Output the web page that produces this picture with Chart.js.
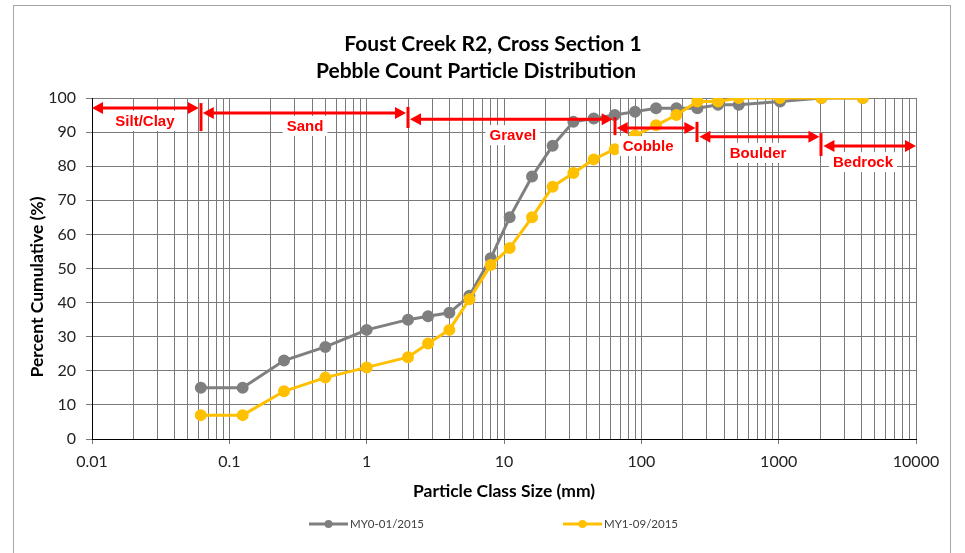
<!DOCTYPE html>
<html>
<head>
<meta charset="utf-8">
<script src="https://cdn.jsdelivr.net/npm/chart.js@4.4.1/dist/chart.umd.min.js"></script>
<style>
  html, body { margin: 0; padding: 0; background: #fff; }
  #wrap { width: 965px; height: 553px; position: relative; }
</style>
</head>
<body>
<div id="wrap"><canvas id="chartPebble"></canvas></div>
<script>
// classes de taille (mm) et pourcentage cumulé par campagne
var sizes = [0.062, 0.125, 0.25, 0.5, 1, 2, 2.8, 4, 5.6, 8, 11, 16, 22.6, 32, 45, 64, 90, 128, 180, 256, 362, 512, 1024, 2048, 4096];
var my0 = [15, 15, 23, 27, 32, 35, 36, 37, 42, 53, 65, 77, 86, 93, 94, 95, 96, 97, 97, 97, 98, 98, 99, 100, 100];
var my1 = [7, 7, 14, 18, 21, 24, 28, 32, 41, 51, 56, 65, 74, 78, 82, 85, 89, 92, 95, 99, 99, 100, 100, 100, 100];
var seriesNames = ['MY0-01/2015', 'MY1-09/2015'];
var xDecades = [0.01, 0.1, 1, 10, 100, 1000, 10000];

// zones granulométriques (en unités de données)
var zoneNames = ['Silt/Clay', 'Sand', 'Gravel', 'Cobble', 'Boulder', 'Bedrock'];
var zoneFrom = [0.01, 0.062, 2, 64, 256, 2048];
var zoneTo = [0.062, 2, 64, 256, 2048, 10000];
var zoneArrowY = [97.1, 95.6, 93.8, 91.2, 88.6, 85.9];
var zoneLabelX = [0.0243, 0.356, 11.6, 112, 708, 4110];
var zoneLabelY = [93.3, 91.8, 89.1, 85.9, 83.9, 81.2];
var limitX = [0.062, 2, 64, 256, 2048];
var limitTop = [98.5, 97.4, 94.4, 93, 89.7];
var limitBottom = [90.3, 91.2, 89.1, 87.1, 83];

var GRAY = '#7f7f7f';
var YELLOW = '#ffc000';
var RED = '#ff0000';
var GRID = '#7a7a7a';

function isDecade(v) {
    var l = Math.log10(v);
    return Math.abs(l - Math.round(l)) < 1e-9;
}

function arrowHead(ctx, x, y, dir) {
    ctx.beginPath();
    ctx.moveTo(x, y);
    ctx.lineTo(x - dir * 11, y - 6);
    ctx.lineTo(x - dir * 11, y + 6);
    ctx.closePath();
    ctx.fill();
}

// titres, cadre, légende et annotations
const decorPlugin = {
    id: 'decor',
    beforeDraw(chart) {
        const ctx = chart.ctx;
        ctx.save();
        ctx.fillStyle = '#fff';
        ctx.fillRect(0, 0, chart.width, chart.height);
        ctx.strokeStyle = '#a6a6a6';
        ctx.lineWidth = 1;
        ctx.strokeRect(13.5, 5.5, 937, 600);
        ctx.restore();
    },
    afterDatasetsDraw(chart) {
        const ctx = chart.ctx;
        const xs = chart.scales.x, ys = chart.scales.y;
        ctx.save();
        ctx.strokeStyle = RED;
        ctx.fillStyle = RED;
        ctx.lineWidth = 3;
        // barres verticales des limites
        for (var i = 0; i < limitX.length; i++) {
            var px = Math.round(xs.getPixelForValue(limitX[i]));
            ctx.beginPath();
            ctx.moveTo(px, ys.getPixelForValue(limitTop[i]));
            ctx.lineTo(px, ys.getPixelForValue(limitBottom[i]));
            ctx.stroke();
        }
        // flèches
        for (var j = 0; j < zoneNames.length; j++) {
            var x1 = xs.getPixelForValue(zoneFrom[j]) + (j === 0 ? 0 : 2);
            var x2 = xs.getPixelForValue(zoneTo[j]) - (j === zoneNames.length - 1 ? 0 : 2);
            var py = ys.getPixelForValue(zoneArrowY[j]);
            ctx.beginPath();
            ctx.moveTo(x1 + 6, py);
            ctx.lineTo(x2 - 6, py);
            ctx.stroke();
            arrowHead(ctx, x1, py, -1);
            arrowHead(ctx, x2, py, 1);
        }
        // étiquettes
        ctx.font = 'bold 15px "Liberation Sans", Arial, sans-serif';
        ctx.textAlign = 'center';
        ctx.textBaseline = 'middle';
        for (var k = 0; k < zoneNames.length; k++) {
            var lx = xs.getPixelForValue(zoneLabelX[k]);
            var ly = ys.getPixelForValue(zoneLabelY[k]);
            var w = ctx.measureText(zoneNames[k]).width;
            ctx.fillStyle = '#fff';
            ctx.fillRect(lx - w / 2 - 4, ly - 10, w + 8, 20);
            ctx.fillStyle = RED;
            ctx.fillText(zoneNames[k], lx, ly + 1);
        }
        ctx.restore();
    },
    afterDraw(chart) {
        const ctx = chart.ctx;
        ctx.save();
        ctx.fillStyle = '#000';
        ctx.textAlign = 'center';
        ctx.textBaseline = 'middle';
        ctx.font = 'bold 21px Lato, sans-serif';
        ctx.fillText('Foust Creek R2, Cross Section 1', 493, 44);
        ctx.fillText('Pebble Count Particle Distribution', 476, 71);
        // titre axe Y
        ctx.translate(37, 287);
        ctx.rotate(-Math.PI / 2);
        ctx.font = 'bold 17.5px Lato, sans-serif';
        ctx.fillText('Percent Cumulative (%)', 0, 0);
        ctx.restore();

        // légende
        const items = [
            { label: seriesNames[0], color: GRAY, x: 309 },
            { label: seriesNames[1], color: YELLOW, x: 563 }
        ];
        ctx.save();
        ctx.font = '11.5px Lato, sans-serif';
        ctx.textBaseline = 'middle';
        ctx.textAlign = 'left';
        items.forEach(function (it) {
            var y = 524;
            ctx.strokeStyle = it.color;
            ctx.fillStyle = it.color;
            ctx.lineWidth = 3;
            ctx.beginPath();
            ctx.moveTo(it.x, y);
            ctx.lineTo(it.x + 39, y);
            ctx.stroke();
            ctx.beginPath();
            ctx.arc(it.x + 19.5, y, 4, 0, Math.PI * 2);
            ctx.fill();
            ctx.fillStyle = '#404040';
            ctx.fillText(it.label, it.x + 41, y);
        });
        ctx.restore();
    }
};

const dataPebble = {
    datasets: [
        {
            label: seriesNames[0],
            data: sizes.map(function (s, i) { return { x: s, y: my0[i] }; }),
            borderColor: GRAY,
            backgroundColor: GRAY,
            pointBackgroundColor: GRAY,
            pointBorderColor: GRAY,
            borderWidth: 3,
            pointRadius: 4.5,
            tension: 0,
            order: 2 // dessinée en dessous
        },
        {
            label: seriesNames[1],
            data: sizes.map(function (s, i) { return { x: s, y: my1[i] }; }),
            borderColor: YELLOW,
            backgroundColor: YELLOW,
            pointBackgroundColor: YELLOW,
            pointBorderColor: YELLOW,
            borderWidth: 3,
            pointRadius: 4.5,
            tension: 0,
            order: 1
        }
    ]
};

const optionsPebble = {
    responsive: true,
    maintainAspectRatio: false,
    animation: false,
    layout: { padding: { top: 98, right: 49, bottom: 51, left: 0 } },
    plugins: {
        legend: { display: false },
        tooltip: { enabled: false }
    },
    scales: {
        x: {
            type: 'logarithmic',
            min: 0.01,
            max: 10000,
            afterBuildTicks: function (scale) {
                var t = [];
                for (var e = -2; e < 4; e++) {
                    for (var m = 1; m < 10; m++) {
                        t.push({ value: m * Math.pow(10, e) });
                    }
                }
                t.push({ value: 10000 });
                scale.ticks = t;
            },
            afterFit: function (scale) {
                scale.height = 63;
                scale.paddingLeft = 0;
                scale.paddingRight = 0;
            },
            ticks: {
                autoSkip: false,
                maxRotation: 0,
                padding: 8,
                color: '#222',
                font: { family: 'Lato', size: 16 },
                callback: function (v) {
                    if (!isDecade(v)) return '';
                    return xDecades.indexOf(Number(v.toPrecision(6))) >= 0 ? String(Number(v.toPrecision(6))) : '';
                }
            },
            grid: {
                color: GRID,
                lineWidth: 1,
                tickLength: 5,
                tickColor: function (c) {
                    return (c.tick && isDecade(c.tick.value)) ? GRID : 'rgba(0,0,0,0)';
                }
            },
            border: { color: '#000', width: 1 },
            title: {
                display: true,
                text: 'Particle Class Size (mm)',
                color: '#000',
                font: { family: 'Lato', size: 17.5, weight: 'bold' },
                padding: { top: 2, bottom: 0 }
            }
        },
        y: {
            min: 0,
            max: 100,
            afterFit: function (scale) {
                scale.width = 92;
                scale.paddingTop = 0;
                scale.paddingBottom = 0;
            },
            ticks: {
                stepSize: 10,
                padding: 10,
                color: '#222',
                font: { family: 'Lato', size: 16 }
            },
            grid: {
                color: GRID,
                lineWidth: 1,
                tickLength: 6
            },
            border: { color: '#000', width: 1 }
        }
    }
};

const chartPebbleElem = document.getElementById('chartPebble').getContext('2d');
var chartPebbleObj = new Chart(chartPebbleElem, {
    type: 'line',
    data: dataPebble,
    options: optionsPebble,
    plugins: [decorPlugin]
});
</script>
</body>
</html>
